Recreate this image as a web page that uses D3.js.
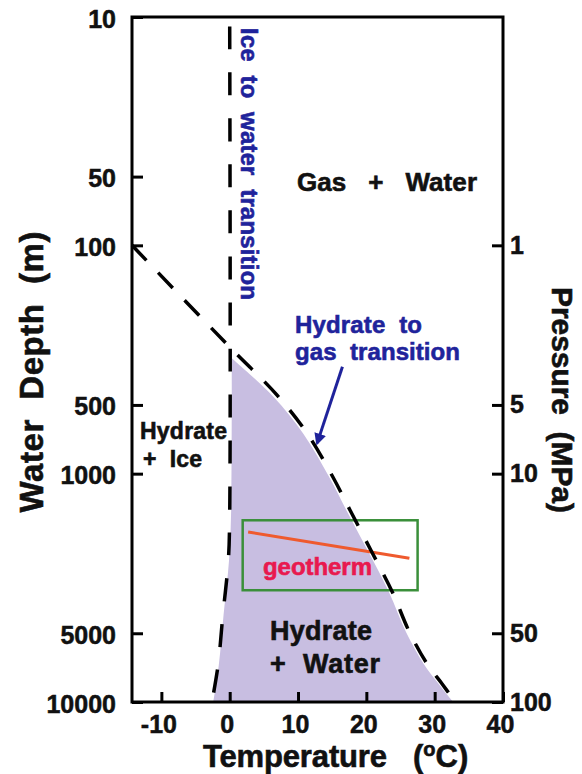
<!DOCTYPE html>
<html>
<head>
<meta charset="utf-8">
<script src="https://cdn.jsdelivr.net/npm/d3@7"></script>
<style>
  body { margin: 0; background: #fff; }
  svg text { font-family: "Liberation Sans", Arial, sans-serif; font-weight: bold; }
</style>
</head>
<body>
<div id="chart"></div>
<script>
// axis ticks
var depthTicks = [10, 50, 100, 500, 1000, 5000, 10000];
var pressureTicks = [1, 5, 10, 50, 100];
var tempTicks = [-10, 0, 10, 20, 30, 40];

// boundaries as [temperature (C), water depth (m)]
var iceLine = [[0, 11], [0, 1500], [-0.2, 2400], [-1.0, 4160], [-1.7, 6900], [-2.6, 10000]];
var hydrateLine = [[-14.3, 100], [0, 279], [6.9, 452], [11.3, 664], [15.1, 1034], [17.6, 1443],
                   [20.8, 2203], [23.8, 3297], [26.3, 4937], [28.9, 6817], [31.1, 8337], [33.0, 10000]];
var fieldLeft = [[0.3, 312], [0.2, 1500], [-0.1, 2400], [-0.9, 4160], [-1.6, 6900], [-2.4, 10000]];
var fieldRight = [[0.3, 312], [6.4, 460], [10.8, 670], [14.6, 1040], [17.1, 1450], [20.3, 2200],
                  [23.3, 3300], [25.8, 4940], [28.4, 6820], [30.6, 8340], [32.7, 10000]];
var geotherm = [[2.7, 1800], [26.3, 2345]];
var boxTemps = [1.9, 27.5];
var boxDepths = [1600, 3240];
var arrowPts = [[16.5, 340], [12.8, 735]];

var blue = "#1f239b";

// plot area
var margin = {top: 17, left: 132},
    width = 371,
    height = 685;

var svg = d3.select("#chart").append("svg")
    .attr("width", 582)
    .attr("height", 774);

var g = svg.append("g")
    .attr("transform", "translate(" + margin.left + "," + margin.top + ")");

var x = d3.scaleLinear().domain([-14.3, 40]).range([0, width]);
var y = d3.scaleLog().domain([10, 10000]).range([0, height]);
var yP = d3.scaleLog().domain([0.1, 100]).range([0, height]);

var line = d3.line()
    .x(function(d) { return x(d[0]); })
    .y(function(d) { return y(d[1]); })
    .curve(d3.curveCatmullRom.alpha(0.5));

// hydrate + water field
var right = line(fieldRight.slice().reverse()).replace(/^M/, "L");
g.append("path")
    .attr("d", line(fieldLeft) + right + "Z")
    .attr("fill", "#c8bee1");

// green box and geotherm
g.append("rect")
    .attr("x", x(boxTemps[0]))
    .attr("y", y(boxDepths[0]))
    .attr("width", x(boxTemps[1]) - x(boxTemps[0]))
    .attr("height", y(boxDepths[1]) - y(boxDepths[0]))
    .attr("fill", "none")
    .attr("stroke", "#3a8f3a")
    .attr("stroke-width", 2.5);

g.append("path")
    .attr("d", d3.line().x(function(d) { return x(d[0]); }).y(function(d) { return y(d[1]); })(geotherm))
    .attr("stroke", "#ef5a2e")
    .attr("stroke-width", 3)
    .attr("fill", "none");

// dashed phase boundaries
g.append("path")
    .attr("d", line(iceLine))
    .attr("fill", "none")
    .attr("stroke", "#000")
    .attr("stroke-width", 3.5)
    .attr("stroke-dasharray", "23,23");

g.append("path")
    .attr("d", line(hydrateLine))
    .attr("fill", "none")
    .attr("stroke", "#000")
    .attr("stroke-width", 3.5)
    .attr("stroke-dasharray", "21,17");

// arrow
svg.append("defs").append("marker")
    .attr("id", "arr")
    .attr("viewBox", "0 0 10 10")
    .attr("refX", 8).attr("refY", 5)
    .attr("markerWidth", 4).attr("markerHeight", 4)
    .attr("orient", "auto")
  .append("path")
    .attr("d", "M0,0L10,5L0,10z")
    .attr("fill", blue);

g.append("line")
    .attr("x1", x(arrowPts[0][0])).attr("y1", y(arrowPts[0][1]))
    .attr("x2", x(arrowPts[1][0])).attr("y2", y(arrowPts[1][1]))
    .attr("stroke", blue)
    .attr("stroke-width", 3)
    .attr("marker-end", "url(#arr)");

// axes, ticks pointing inward
var left = g.append("g")
    .call(d3.axisLeft(y).tickValues(depthTicks).tickFormat(d3.format("d")).tickSize(-11).tickPadding(16));
left.selectAll("text").attr("dy", "0.4em");

g.append("g")
    .attr("transform", "translate(" + width + ",0)")
    .call(d3.axisRight(yP).tickValues(pressureTicks).tickFormat(d3.format("d")).tickSize(-11).tickPadding(7));

var bottom = g.append("g")
    .attr("transform", "translate(0," + height + ")")
    .call(d3.axisBottom(x).tickValues(tempTicks).tickFormat(function(d) { return String(d); }).tickSize(-10).tickPadding(13));
bottom.selectAll("text").attr("dx", -3);

g.selectAll(".domain").remove();
g.selectAll(".tick line").attr("stroke", "#000").attr("stroke-width", 3);
g.selectAll(".tick text").attr("font-size", 25).attr("fill", "#111")
    .attr("stroke", "#111").attr("stroke-width", 0.5)
    .attr("font-family", "Liberation Sans, Arial, sans-serif").attr("font-weight", "bold");

g.append("rect")
    .attr("width", width)
    .attr("height", height)
    .attr("fill", "none")
    .attr("stroke", "#000")
    .attr("stroke-width", 3);

// labels
function addText(str, px, py, size, color, len, rot, anchor) {
  var t = svg.append("text")
      .attr("transform", "translate(" + px + "," + py + ")" + (rot ? " rotate(" + rot + ")" : ""))
      .attr("font-size", size)
      .attr("fill", color)
      .attr("stroke", color)
      .attr("stroke-width", 0.6)
      .attr("text-anchor", anchor || "start")
      .style("white-space", "pre")
      .text(str);
  if (len) t.attr("textLength", len).attr("lengthAdjust", "spacing");
  return t;
}

addText("Gas   +   Water", 297, 191, 26, "#111", 180);
addText("Hydrate  to", 295, 333, 24, blue, 127);
addText("gas  transition", 295, 360, 24, blue, 165);
addText("Hydrate", 140, 439, 23, "#111", 87);
addText("+  Ice", 143, 467, 23, "#111", 59);
addText("Hydrate", 270, 640, 27, "#111", 102);
addText("+  Water", 270, 673, 27, "#111", 110);
addText("geotherm", 263, 575, 24, "#e8194f", 109);
addText("Ice  to  water  transition", 241, 28, 24, blue, 272, 90);

addText("Water  Depth  (m)", 43, 372, 33, "#111", 281, -90, "middle");
addText("Pressure  (MPa)", 552, 400, 30, "#111", 226, 90, "middle");
addText("Temperature", 203, 767, 31, "#111", 184);
var unit = addText("(", 413, 767, 31, "#111");
unit.append("tspan").attr("font-size", 20).attr("dy", -11).text("o");
unit.append("tspan").attr("dy", 11).text("C)");
</script>
</body>
</html>
